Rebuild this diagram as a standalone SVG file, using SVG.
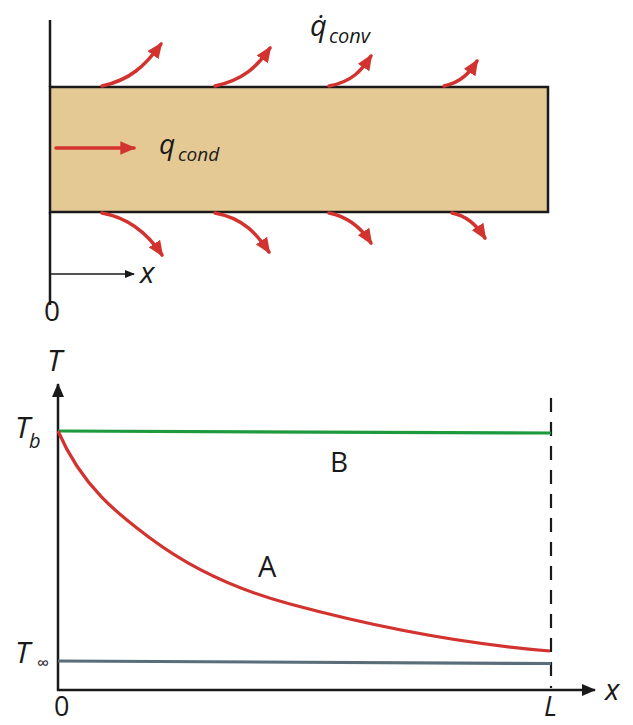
<svg xmlns="http://www.w3.org/2000/svg" width="633" height="725" viewBox="0 0 633 725">
<style>
.lbl{font-family:"Open Sans","Liberation Sans",sans-serif;fill:#1a1a1a}
.it{font-style:italic}
.wall{stroke:#1a1a1a;stroke-width:2.5;fill:none}
.flux{stroke:#d2332f;stroke-width:3.5;fill:none;stroke-linecap:round}
</style>
<defs>
<marker id="rh" viewBox="0 0 14 12" refX="12" refY="6" markerWidth="16" markerHeight="14" markerUnits="userSpaceOnUse" orient="auto">
<path d="M0,0 L14,6 L0,12 Z" fill="#d2332f"/>
</marker>
<marker id="kh" viewBox="0 0 10 8" refX="9" refY="4" markerWidth="10" markerHeight="8" markerUnits="userSpaceOnUse" orient="auto">
<path d="M0,0 L10,4 L0,8 Z" fill="#1a1a1a"/>
</marker>
<marker id="kh2" viewBox="0 0 14 12" refX="13" refY="6" markerWidth="14" markerHeight="12" markerUnits="userSpaceOnUse" orient="auto">
<path d="M0,0 L14,6 L0,12 Z" fill="#1a1a1a"/>
</marker>
</defs>

<g id="fin">
<rect x="50" y="87" width="498" height="125" fill="#e5c994" stroke="#1a1a1a" stroke-width="2.5"/>
<line class="wall" x1="50" y1="20" x2="50" y2="87"/>
<line class="wall" x1="50" y1="212" x2="50" y2="305"/>
</g>

<g id="connectors">
<path class="flux" d="M102,86 C130,80 145,66 161,44" marker-end="url(#rh)"/>
<path class="flux" d="M215,86 C243,80 257,67 270,48" marker-end="url(#rh)"/>
<path class="flux" d="M329,86 C352,82 362,70 371,56" marker-end="url(#rh)"/>
<path class="flux" d="M444,86 C462,82 470,72 477,61" marker-end="url(#rh)"/>
<path class="flux" d="M102,213 C130,218 148,234 162,255" marker-end="url(#rh)"/>
<path class="flux" d="M215,213 C243,218 257,234 269,252" marker-end="url(#rh)"/>
<path class="flux" d="M329,213 C350,217 362,229 371,243" marker-end="url(#rh)"/>
<path class="flux" d="M452,213 C468,216 478,227 485,238" marker-end="url(#rh)"/>
<line class="flux" x1="56" y1="148" x2="134" y2="148" marker-end="url(#rh)"/>
<line x1="50" y1="274" x2="134" y2="274" stroke="#1a1a1a" stroke-width="1.5" marker-end="url(#kh)"/>
</g>

<g id="labels-top">
<text class="lbl it" x="310" y="36" font-size="29">q̇</text>
<text class="lbl it" x="329" y="43" font-size="20">conv</text>
<text class="lbl it" x="159" y="154" font-size="28">q</text>
<text class="lbl it" x="178" y="161" font-size="19">cond</text>
<text class="lbl it" x="140" y="283" font-size="30">x</text>
<text class="lbl" x="44" y="321" font-size="28">0</text>
</g>

<g id="graph">
<line x1="58" y1="691" x2="58" y2="384" stroke="#1a1a1a" stroke-width="2.5" marker-end="url(#kh2)"/>
<line x1="57" y1="690" x2="595" y2="690" stroke="#1a1a1a" stroke-width="2.5" marker-end="url(#kh2)"/>
<line x1="551" y1="398" x2="551" y2="688" stroke="#1a1a1a" stroke-width="2.2" stroke-dasharray="14,10"/>
<line id="B" x1="58" y1="431" x2="551" y2="433" stroke="#1e9a3e" stroke-width="3.2"/>
<line id="Tinf" x1="58" y1="661" x2="551" y2="663.5" stroke="#5a6e7a" stroke-width="3.2"/>
<path id="A" fill="none" stroke="#d2332f" stroke-width="3.2" d="M58,431 C83,488.5 120,515.5 150,538 C195,571.75 245,592 290,604 C375,627 465,644 550,651"/>
</g>

<g id="labels-graph">
<text class="lbl it" x="47" y="371" font-size="30">T</text>
<text class="lbl it" x="15" y="438" font-size="30">T</text>
<text class="lbl it" x="29" y="448" font-size="20">b</text>
<text class="lbl it" x="15" y="663" font-size="30">T</text>
<text class="lbl" x="37" y="669" font-size="17">∞</text>
<text class="lbl" x="330" y="472" font-size="28">B</text>
<text class="lbl" x="258" y="577" font-size="29">A</text>
<text class="lbl" x="54" y="716" font-size="27">0</text>
<text class="lbl it" x="544" y="716" font-size="27">L</text>
<text class="lbl it" x="605" y="700" font-size="30">x</text>
</g>
</svg>
